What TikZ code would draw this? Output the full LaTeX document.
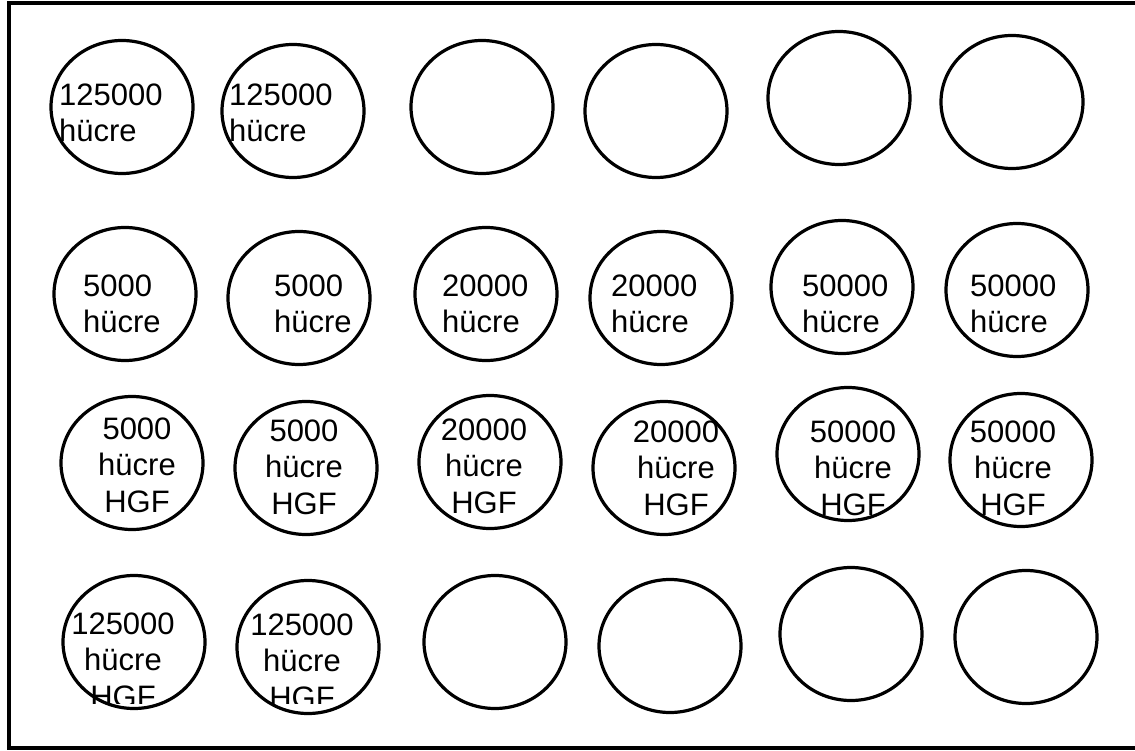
\documentclass[tikz,border=0pt]{standalone}
\usepackage{fontspec}
\setmainfont{Liberation Sans}
\usetikzlibrary{shapes.geometric}

\tikzset{
	well/.style={draw, ellipse, line width=3.2pt, minimum width=142pt, minimum height=133pt, inner sep=0pt},
	lbl/.style={font=\fontsize{31}{36.5}\selectfont, inner sep=0pt}
}

\begin{document}
\begin{tikzpicture}[x=1pt, y=-1pt]
	\useasboundingbox (0,0) rectangle (1135,751);
	% plate frame (open on the right)
	\draw[line width=4pt] (1140,3) -- (9,3) -- (9,747.5) -- (1140,747.5);
	% wells
	\foreach \x/\y [count=\i] in {122/107, 293/111, 482/107, 656/111, 839/98, 1012/102} {
		\node[well] (a\i) at (\x,\y) {};
	}
	\foreach \x/\y [count=\i] in {125/294, 299/298, 486/294, 661/298, 842/287, 1017/290} {
		\node[well] (b\i) at (\x,\y) {};
	}
	\foreach \x/\y [count=\i] in {132/463, 306/468, 490/462, 664/468, 848/454, 1021/460} {
		\node[well] (c\i) at (\x,\y) {};
	}
	\foreach \x/\y [count=\i] in {134/642, 308/647, 495/642, 670/646, 851/634, 1026/637} {
		\node[well] (d\i) at (\x,\y) {};
	}
	% seeding, no HGF (anchor on the last line)
	\foreach \x/\n [count=\i] in {59/125000, 229/125000} {
		\node[lbl, anchor=base west, align=left] (ta\i) at (\x,142) {\n\\hücre};
	}
	\foreach \x/\n [count=\i] in {83/5000, 274/5000, 442/20000, 611/20000, 802/50000, 970/50000} {
		\node[lbl, anchor=base west, align=left] (tb\i) at (\x,333) {\n\\hücre};
	}
	% seeding with HGF
	\foreach \x/\y/\n [count=\i] in {137/512/5000, 304/514/5000, 484/513/20000, 676/515/20000, 853/515/50000, 1013/515/50000} {
		\node[lbl, anchor=base, align=center] (tc\i) at (\x,\y) {\n\\hücre\\HGF};
	}
	\begin{scope}
		\clip (0,0) rectangle (1135,703);
		\foreach \x/\y/\n [count=\i] in {123/707/125000, 302/708/125000} {
			\node[lbl, anchor=base, align=center] (td\i) at (\x,\y) {\n\\hücre\\HGF};
		}
	\end{scope}
\end{tikzpicture}
\end{document}
